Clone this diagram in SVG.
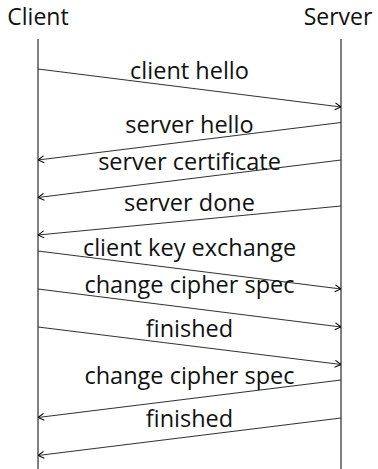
<svg xmlns="http://www.w3.org/2000/svg" width="378" height="469" viewBox="0 0 378 469">
<defs>
<marker id="ah" viewBox="0 0 10 10" refX="10" refY="5" markerWidth="10" markerHeight="10" markerUnits="userSpaceOnUse" orient="auto">
<path d="M4,1.5 L10,5 L4,8.5" fill="none" stroke="#000" stroke-width="1"/>
</marker>
<style>
text{font-family:"Open Sans","Noto Sans",sans-serif;font-size:23.5px;fill:#111;text-anchor:middle}
.title{font-size:23px}
.life{stroke:#000;stroke-width:1;fill:none}
.msg{stroke:#333;stroke-width:1.2;fill:none;marker-end:url(#ah)}
</style>
</defs>
<rect width="378" height="469" fill="#fff"/>
<g id="client">
<text class="title" x="38" y="25">Client</text>
<line class="life" x1="38" y1="39" x2="38" y2="469"/>
</g>
<g id="server">
<text class="title" x="338" y="25">Server</text>
<line class="life" x1="341" y1="39" x2="341" y2="469"/>
</g>
<g id="connectors">
<line class="msg" x1="38" y1="69" x2="341" y2="107"/>
<line class="msg" x1="341" y1="122.5" x2="38" y2="160"/>
<line class="msg" x1="341" y1="160" x2="38" y2="197.5"/>
<line class="msg" x1="341" y1="206" x2="38" y2="235"/>
<line class="msg" x1="38" y1="251" x2="341" y2="289"/>
<line class="msg" x1="38" y1="289" x2="341" y2="327"/>
<line class="msg" x1="38" y1="327" x2="341" y2="364.5"/>
<line class="msg" x1="341" y1="380" x2="38" y2="417.5"/>
<line class="msg" x1="341" y1="418" x2="38" y2="455.5"/>
</g>
<g id="labels">
<text x="189.5" y="79">client hello</text>
<text x="189.5" y="132.5">server hello</text>
<text x="189.5" y="170">server certificate</text>
<text x="189.5" y="211">server done</text>
<text x="189.5" y="255.5">client key exchange</text>
<text x="189.5" y="293">change cipher spec</text>
<text x="189.5" y="336.5">finished</text>
<text x="189.5" y="384">change cipher spec</text>
<text x="189.5" y="427">finished</text>
</g>
</svg>
